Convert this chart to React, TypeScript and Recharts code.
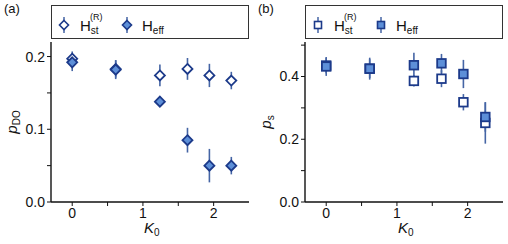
import * as React from 'react';
import { ScatterChart, Scatter, XAxis, YAxis, ErrorBar, Label } from 'recharts';

// K0 positions shared by both panels
const kValues = [0, 0.615, 1.24, 1.63, 1.94, 2.25];

// panel (a): p_DO
const doHst = [0.197, 0.183, 0.174, 0.183, 0.174, 0.167];
const doHstErr = [0.01, 0.012, 0.015, 0.015, 0.016, 0.012];
const doHeff = [0.192, 0.182, 0.138, 0.085, 0.05, 0.05];
const doHeffErr = [0.012, 0.013, 0.007, 0.017, 0.023, 0.012];

// panel (b): p_s
const sHst = [0.435, 0.425, 0.386, 0.393, 0.318, 0.252];
const sHstErr = [0.025, 0.03, 0.018, 0.027, 0.026, 0.066];
const sHeff = [0.432, 0.425, 0.436, 0.442, 0.408, 0.271];
const sHeffErr = [0.03, 0.035, 0.04, 0.03, 0.045, 0.047];

const xTicks = [0, 0.5, 1, 1.5, 2];
const xLabels = [0, 1, 2];
const doTicks = [0, 0.05, 0.1, 0.15, 0.2];
const doLabels = [0, 0.1, 0.2];
const sTicks = [0, 0.1, 0.2, 0.3, 0.4, 0.5];
const sLabels = [0, 0.2, 0.4];

const FONT = '"Liberation Sans", Arial, sans-serif';
const DARK = '#1c3a8a';
const FILL = '#5d8fd8';
const BAR = '#4565a5';

const toRows = (ys: number[], errs: number[]) =>
  kValues.map((k, i) => ({ k, y: ys[i], err: errs[i] }));

const Diamond = (open: boolean) => (p: any) => {
  const { cx, cy } = p;
  const r = 5;
  return (
    <path
      d={`M${cx},${cy - r}L${cx + r},${cy}L${cx},${cy + r}L${cx - r},${cy}Z`}
      fill={open ? '#fff' : FILL}
      stroke={DARK}
      strokeWidth={1.8}
    />
  );
};

const Square = (open: boolean) => (p: any) => {
  const { cx, cy } = p;
  const h = 4.3;
  return (
    <rect x={cx - h} y={cy - h} width={h * 2} height={h * 2} fill={open ? '#fff' : FILL} stroke={DARK} strokeWidth={1.8} />
  );
};

const fmt = (labels: number[], digits: number) => (v: number) =>
  labels.some((l) => Math.abs(l - v) < 1e-9) ? v.toFixed(digits) : '';

const LegendBox = (props: { left: number; square: boolean }) => {
  const marker = (cx: number, open: boolean) =>
    props.square ? (
      <rect x={cx - 3.5} y={15.5} width={7} height={7} fill={open ? '#fff' : FILL} stroke={DARK} strokeWidth={1.6} />
    ) : (
      <path d={`M${cx},${14.5}L${cx + 4.5},${19}L${cx},${23.5}L${cx - 4.5},${19}Z`} fill={open ? '#fff' : FILL} stroke={DARK} strokeWidth={1.6} />
    );
  return (
    <svg
      width={198}
      height={34}
      style={{ position: 'absolute', left: props.left, top: 5, border: '1px solid #333', boxSizing: 'border-box' }}
    >
      <line x1={12} x2={12} y1={11} y2={27} stroke={BAR} strokeWidth={1.5} />
      {marker(12, true)}
      <text x={28} y={25} fontSize={15} fontFamily={FONT} fill="#111">
        H<tspan dy={3} fontSize={10}>st</tspan>
      </text>
      <text x={38} y={14} fontSize={9} fontFamily={FONT} fill="#111">(R)</text>
      <line x1={75} x2={75} y1={11} y2={27} stroke={BAR} strokeWidth={1.5} />
      {marker(75, false)}
      <text x={90} y={25} fontSize={15} fontFamily={FONT} fill="#111">
        H<tspan dy={3} fontSize={10}>eff</tspan>
      </text>
    </svg>
  );
};

const Panel = (props: {
  left: number;
  tag: string;
  hst: number[];
  hstErr: number[];
  heff: number[];
  heffErr: number[];
  yMax: number;
  yTicks: number[];
  yLabels: number[];
  ySub: string;
  square: boolean;
}) => {
  const shape = props.square ? Square : Diamond;
  const tickStyle = { fontSize: 14, fontFamily: FONT, fill: '#111' };
  const axisLine = { stroke: '#111', strokeWidth: 1.4 };
  return (
    <div style={{ position: 'absolute', left: props.left, top: 0, width: 254, height: 244 }}>
      <div style={{ position: 'absolute', left: 4, top: 1, fontSize: 13, fontFamily: FONT, color: '#111' }}>{props.tag}</div>
      <LegendBox left={51} square={props.square} />
      <ScatterChart width={254} height={244} margin={{ top: 42, right: 5, bottom: 0, left: 0 }}>
        <XAxis
          xAxisId="b"
          type="number"
          dataKey="k"
          domain={[-0.3, 2.5]}
          ticks={xTicks}
          tickFormatter={fmt(xLabels, 0)}
          height={42}
          tickSize={4}
          tick={tickStyle}
          axisLine={axisLine}
          tickLine={{ stroke: '#111' }}
        >
          <Label
            content={(p: any) => {
              const vb = p.viewBox;
              return (
                <text x={vb.x + vb.width / 2 - 6} y={233} fontSize={15} fontFamily={FONT} fill="#111">
                  <tspan fontStyle="italic">K</tspan>
                  <tspan dy={3} fontSize={10}>0</tspan>
                </text>
              );
            }}
          />
        </XAxis>
        <XAxis
          xAxisId="t"
          orientation="top"
          type="number"
          dataKey="k"
          domain={[-0.3, 2.5]}
          ticks={xTicks}
          mirror
          height={0}
          tick={false}
          tickSize={4}
          axisLine={axisLine}
          tickLine={{ stroke: '#111' }}
        />
        <YAxis
          yAxisId="l"
          type="number"
          dataKey="y"
          domain={[0, props.yMax]}
          ticks={props.yTicks}
          tickFormatter={fmt(props.yLabels, 1)}
          width={51}
          tickSize={4}
          tick={tickStyle}
          axisLine={axisLine}
          tickLine={{ stroke: '#111' }}
        >
          <Label
            content={(p: any) => {
              const vb = p.viewBox;
              const cy = vb.y + vb.height / 2;
              return (
                <text x={17} y={cy} fontSize={15} fontFamily={FONT} fill="#111" textAnchor="middle" transform={`rotate(-90 17 ${cy})`}>
                  <tspan fontStyle="italic">p</tspan>
                  <tspan dy={3} fontSize={10}>{props.ySub}</tspan>
                </text>
              );
            }}
          />
        </YAxis>
        <YAxis
          yAxisId="r"
          orientation="right"
          type="number"
          domain={[0, props.yMax]}
          ticks={props.yTicks}
          mirror
          width={0}
          tick={false}
          tickSize={4}
          axisLine={axisLine}
          tickLine={{ stroke: '#111' }}
        />
        <Scatter
          xAxisId="b"
          yAxisId="l"
          data={toRows(props.hst, props.hstErr)}
          shape={shape(true)}
          isAnimationActive={false}
        >
          <ErrorBar dataKey="err" direction="y" width={0} stroke={BAR} strokeWidth={1.6} />
        </Scatter>
        <Scatter
          xAxisId="b"
          yAxisId="l"
          data={toRows(props.heff, props.heffErr)}
          shape={shape(false)}
          isAnimationActive={false}
        >
          <ErrorBar dataKey="err" direction="y" width={0} stroke={BAR} strokeWidth={1.6} />
        </Scatter>
      </ScatterChart>
    </div>
  );
};

export default function App() {
  return (
    <div style={{ position: 'absolute', left: 0, top: 0, width: 508, height: 244, background: '#fff' }}>
      <Panel
        left={0}
        tag="(a)"
        hst={doHst}
        hstErr={doHstErr}
        heff={doHeff}
        heffErr={doHeffErr}
        yMax={0.22}
        yTicks={doTicks}
        yLabels={doLabels}
        ySub="DO"
        square={false}
      />
      <Panel
        left={254}
        tag="(b)"
        hst={sHst}
        hstErr={sHstErr}
        heff={sHeff}
        heffErr={sHeffErr}
        yMax={0.51}
        yTicks={sTicks}
        yLabels={sLabels}
        ySub="s"
        square={true}
      />
    </div>
  );
}
